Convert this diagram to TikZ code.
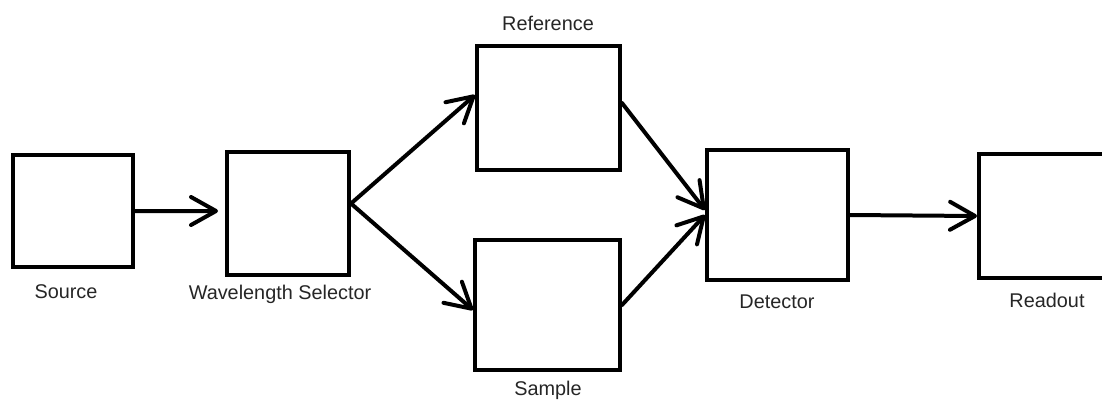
\documentclass[tikz,border=0pt]{standalone}
\usepackage{fontspec}
\setmainfont{Liberation Sans}
\usetikzlibrary{arrows.meta}

\begin{document}
\begin{tikzpicture}[x=0.02cm,y=-0.02cm,
  box/.style={draw, line width=0.08cm, inner sep=0pt},
  lbl/.style={text=black!85, font=\fontsize{11.3}{13}\selectfont},
  flow/.style={line width=0.08cm, line cap=round, -{Straight Barb[length=0.5cm,width=0.56cm,line cap=round,line join=round]}}]
\useasboundingbox (0,0) rectangle (1102,400);

% boxes
\node [box, minimum width=2.4cm,  minimum height=2.24cm] (src) at (73,211)    {};
\node [box, minimum width=2.44cm, minimum height=2.46cm] (wls) at (288,213.5) {};
\node [box, minimum width=2.86cm, minimum height=2.48cm] (ref) at (548.5,108) {};
\node [box, minimum width=2.9cm,  minimum height=2.6cm]  (sam) at (547.5,305) {};
\node [box, minimum width=2.82cm, minimum height=2.6cm]  (det) at (777.5,215) {};
\node [box, minimum width=2.84cm, minimum height=2.48cm] (rdo) at (1050,216)  {};

% labels
\node [lbl] (srclbl) at (66,292)  {Source};
\node [lbl] (wlslbl) at (280,294) {Wavelength Selector};
\node [lbl] (reflbl) at (548,23)  {Reference};
\node [lbl] (samlbl) at (548,390) {Sample};
\node [lbl] (detlbl) at (777,302) {Detector};
\node [lbl] (rdolbl) at (1047,300) {Readout};

% connectors
\draw [flow] (src.east) -- ([xshift=-0.14cm,yshift=0.05cm]wls.west);
\draw [flow] ([yshift=0.2cm]wls.east) -- ([yshift=0.26cm]ref.west);
\draw [flow] ([yshift=0.2cm]wls.east) -- ([yshift=-0.1cm]sam.west);
\draw [flow] ([yshift=0.1cm]ref.east) -- ([yshift=0.1cm]det.west);
\draw [flow] (sam.east) -- (det.west);
\draw [flow] (det.east) -- (rdo.west);

\end{tikzpicture}
\end{document}
